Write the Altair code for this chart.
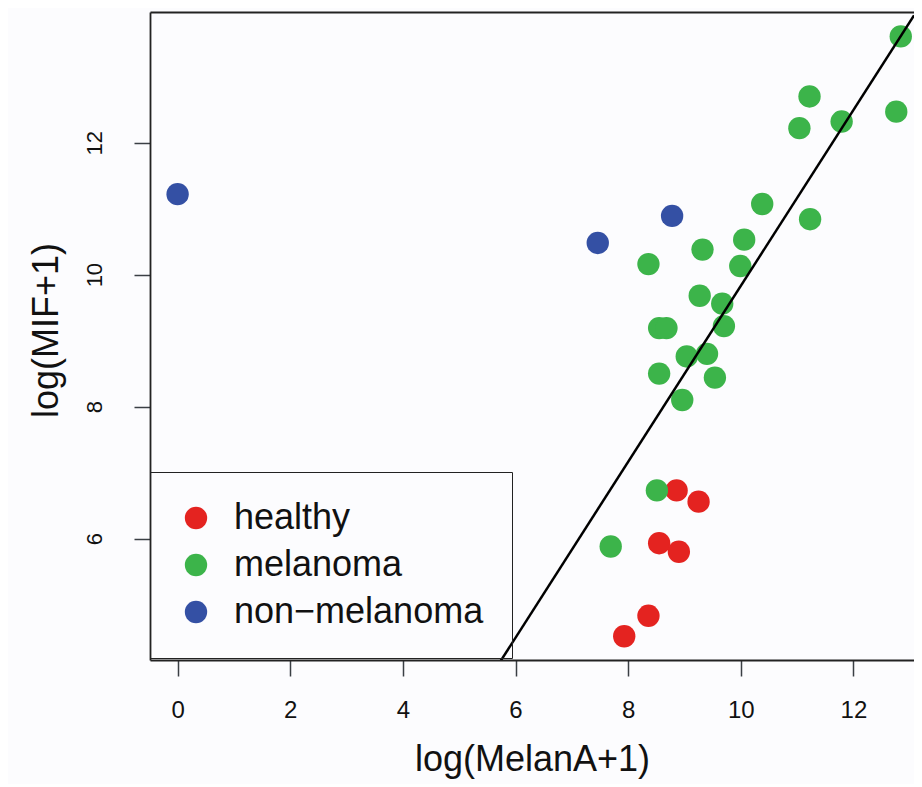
import altair as alt
import pandas as pd

# ---- data ----
groups = ["healthy", "melanoma", "non−melanoma"]
group_colors = ["#E42320", "#3CB44A", "#3450A4"]

healthy_x = [8.86, 9.25, 8.55, 8.90, 8.36, 7.93]
healthy_y = [6.73, 6.56, 5.93, 5.80, 4.83, 4.52]

melanoma_x = [12.84, 11.22, 11.04, 11.79, 12.76, 10.38, 11.23, 10.06, 9.32, 9.99,
              8.36, 9.27, 9.67, 9.70, 8.55, 8.68, 9.04, 9.40, 8.55, 9.54,
              8.96, 8.51, 7.69]
melanoma_y = [13.61, 12.70, 12.22, 12.32, 12.47, 11.07, 10.84, 10.53, 10.38, 10.13,
              10.16, 9.68, 9.56, 9.22, 9.19, 9.19, 8.76, 8.80, 8.50, 8.44,
              8.10, 6.73, 5.88]

nonmel_x = [0.0, 7.46, 8.78]
nonmel_y = [11.22, 10.48, 10.89]

x_ticks = [0, 2, 4, 6, 8, 10, 12]
y_ticks = [6, 8, 10, 12]
x_domain = [-0.49, 13.075]
y_domain = [4.16, 13.98]

fit_intercept = -3.50
fit_slope = 1.333

# ---- tables ----
rows = []
for g, xs, ys in [(groups[0], healthy_x, healthy_y),
                  (groups[1], melanoma_x, melanoma_y),
                  (groups[2], nonmel_x, nonmel_y)]:
    for a, b in zip(xs, ys):
        rows.append({"MelanA": a, "MIF": b, "group": g})
points_df = pd.DataFrame(rows)

line_df = pd.DataFrame({"MelanA": x_domain,
                        "MIF": [fit_intercept + fit_slope * v for v in x_domain]})

FONT = "Liberation Sans"
FRAME = "#222222"
x_scale = alt.Scale(domain=x_domain, nice=False, zero=False)
y_scale = alt.Scale(domain=y_domain, nice=False, zero=False)

x_axis = alt.Axis(values=x_ticks, grid=False, domain=True, domainColor=FRAME, domainWidth=1.8,
                  tickSize=16, tickWidth=1.5,
                  tickColor="#3a3f44", labelFontSize=24, labelBaseline="alphabetic",
                  labelPadding=41, labelColor="#111111", labelFont=FONT,
                  title="log(MelanA+1)", titleFontSize=36, titleFontWeight="normal",
                  titleBaseline="alphabetic", titleY=110, titleColor="#111111", titleFont=FONT)
x_axis_top = alt.Axis(orient="top", grid=False, domain=True, domainColor=FRAME,
                      domainWidth=1.8, ticks=False, labels=False, title=None)
y_axis = alt.Axis(values=y_ticks, grid=False, domain=True, domainColor=FRAME, domainWidth=1.8,
                  tickSize=16, tickWidth=1.5,
                  tickColor="#3a3f44", labelFontSize=22, labelAngle=270, labelAlign="center",
                  labelBaseline="alphabetic", labelPadding=33, labelColor="#111111",
                  labelFont=FONT,
                  title="log(MIF+1)", titleFontSize=36, titleFontWeight="normal",
                  titleAngle=270, titleAlign="center", titleBaseline="alphabetic",
                  titleX=-93, titleY=318, titleColor="#111111", titleFont=FONT)

points = alt.Chart(points_df).mark_circle(size=500, opacity=1).encode(
    x=alt.X("MelanA:Q", scale=x_scale, axis=x_axis),
    y=alt.Y("MIF:Q", scale=y_scale, axis=y_axis),
    color=alt.Color("group:N", scale=alt.Scale(domain=groups, range=group_colors),
                    legend=alt.Legend(title=None, orient="none", legendX=0, legendY=460,
                                      padding=28, strokeColor=FRAME,
                                      symbolType="circle", symbolSize=500,
                                      symbolStrokeWidth=0, symbolOpacity=1,
                                      labelFontSize=36, labelOffset=20, rowPadding=11,
                                      labelLimit=500,
                                      labelColor="#111111", labelFont=FONT)),
)

fit_line = alt.Chart(line_df).mark_line(color="black", strokeWidth=2.5, clip=True).encode(
    x=alt.X("MelanA:Q", scale=x_scale, axis=x_axis_top),
    y=alt.Y("MIF:Q", scale=y_scale, axis=y_axis),
)

chart = alt.layer(points, fit_line).resolve_axis(x="independent").properties(
    width=764, height=648,
    padding={"left": 142, "top": 4, "right": 0, "bottom": 124},
    autosize=alt.AutoSizeParams(type="none"),
    background="#FCFCFE",
).configure(font=FONT).configure_view(stroke=None)

chart.save("out.html", embed_options={"renderer": "svg", "actions": False})
